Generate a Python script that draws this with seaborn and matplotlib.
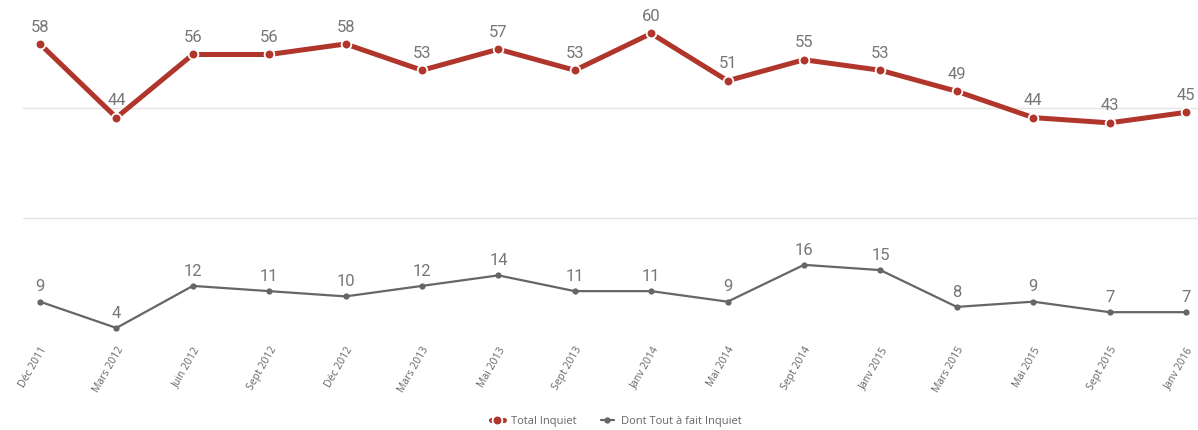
import numpy as np
import pandas as pd
import matplotlib
matplotlib.use("Agg")
import matplotlib.pyplot as plt
import seaborn as sns

periods = ["Déc 2011", "Mars 2012", "Juin 2012", "Sept 2012", "Déc 2012", "Mars 2013",
           "Mai 2013", "Sept 2013", "Janv 2014", "Mai 2014", "Sept 2014", "Janv 2015",
           "Mars 2015", "Mai 2015", "Sept 2015", "Janv 2016"]
total_inquiet = [58, 44, 56, 56, 58, 53, 57, 53, 60, 51, 55, 53, 49, 44, 43, 45]
tout_a_fait = [9, 4, 12, 11, 10, 12, 14, 11, 11, 9, 16, 15, 8, 9, 7, 7]
series_names = ["Total Inquiet", "Dont Tout à fait Inquiet"]

sns.set_theme(style="white")
plt.rcParams['font.family'] = ['Open Sans', 'DejaVu Sans']

RED = "#b0352b"
GREY = "#666666"
LABEL = "#777777"

fig = plt.figure(figsize=(11.98, 4.31), dpi=100)
ax = fig.add_axes([23 / 1198, 1 - 345 / 431, 1 - 23 / 1198, 340 / 431])

idx = np.arange(len(periods))
df = pd.DataFrame({"idx": idx, "total": total_inquiet, "tout": tout_a_fait})

sns.lineplot(data=df, x="idx", y="total", ax=ax, color=RED, linewidth=3.6,
             marker="o", markersize=7, markeredgecolor="white", markeredgewidth=1.3,
             label=series_names[0], clip_on=False)
sns.lineplot(data=df, x="idx", y="tout", ax=ax, color=GREY, linewidth=1.6,
             marker="o", markersize=4.5, markeredgecolor=GREY, markeredgewidth=0,
             label=series_names[1], clip_on=False)

for i, v in zip(idx, total_inquiet):
    ax.annotate(str(v), (i, v), xytext=(0, 7.5), textcoords="offset points",
                ha="center", va="bottom", fontsize=12, color=LABEL, family="Roboto")
for i, v in zip(idx, tout_a_fait):
    ax.annotate(str(v), (i, v), xytext=(0, 6), textcoords="offset points",
                ha="center", va="bottom", fontsize=12, color=LABEL, family="Roboto")

ax.set_xlim(-17 / 76.4, 15 + 12 / 76.4)
ax.set_ylim(0.95, 65.6)
ax.set_yticks([24.9, 45.8])
ax.yaxis.grid(True, color="#e3e3e3", linewidth=1)
ax.xaxis.grid(False)
ax.tick_params(axis="y", left=False, labelleft=False)
ax.set_xticks(idx)
ax.set_xticklabels(periods, rotation=60, ha="right", va="top", rotation_mode="anchor",
                   fontsize=7.5, color=GREY)
ax.tick_params(axis="x", bottom=False, pad=-6)
ax.set_xlabel("")
ax.set_ylabel("")
for s in ax.spines.values():
    s.set_visible(False)

leg = ax.legend(loc="center", bbox_to_anchor=(616 / 1198, 9 / 431),
                bbox_transform=fig.transFigure, ncol=2, frameon=False,
                fontsize=8, handlelength=1.2, columnspacing=2.2, handletextpad=0.6)
for t in leg.get_texts():
    t.set_color(GREY)

fig.savefig("out.png", dpi=100, facecolor="white")
